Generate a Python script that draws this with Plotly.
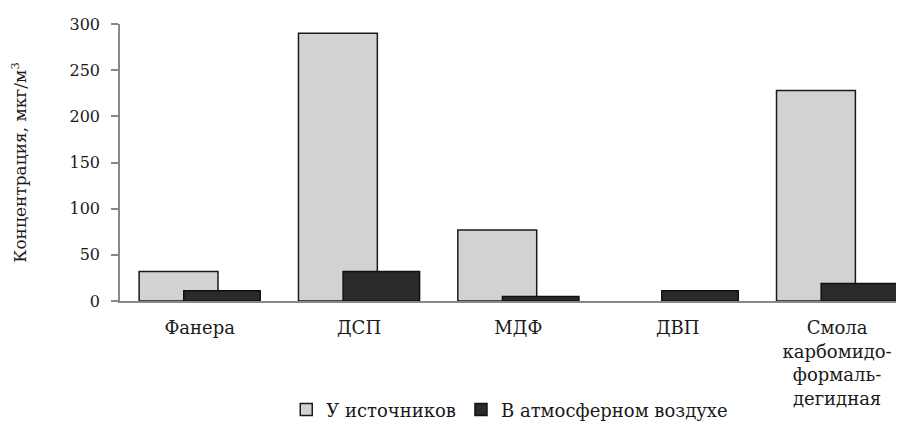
import plotly.graph_objects as go

categories = ["Фанера", "ДСП", "МДФ", "ДВП", "Смола<br>карбомидо-<br>формаль-<br>дегидная"]
sources = [32, 290, 77, 0, 228]
atmosphere = [11, 32, 5, 11, 19]
series_names = ["У источников", "В атмосферном воздухе"]
y_ticks = [0, 50, 100, 150, 200, 250, 300]

FONT = "DejaVu Serif"

fig = go.Figure()
fig.add_trace(go.Bar(
    x=categories, y=sources, name=series_names[0],
    marker=dict(color="#d2d2d2", line=dict(color="#1a1a1a", width=[1.5 if v > 0 else 0 for v in sources])),
    width=0.495, offset=-0.38,
))
fig.add_trace(go.Bar(
    x=categories, y=atmosphere, name=series_names[1],
    marker=dict(color="#2a2a2a", line=dict(color="#111111", width=1.5)),
    width=0.48, offset=-0.1,
))

fig.update_layout(
    width=896, height=413,
    barmode="overlay",
    plot_bgcolor="white", paper_bgcolor="white",
    font=dict(family=FONT, size=17, color="#1a1a1a"),
    margin=dict(l=112, r=0, t=16, b=120, autoexpand=False),
    showlegend=True,
    legend=dict(orientation="h", x=0.56, xanchor="center", xref="container",
                y=0.027, yanchor="middle", yref="container",
                font=dict(family=FONT, size=18), itemwidth=30, tracegroupgap=0),
    xaxis=dict(
        type="category", range=[-0.5, 4.42], automargin=False,
        showline=True, linecolor="#888888", linewidth=1.5,
        ticks="", showgrid=False, tickfont=dict(family=FONT, size=18),
        ticklabelstandoff=10,
    ),
    yaxis=dict(
        range=[0, 300], tickvals=y_ticks, automargin=False,
        showline=True, linecolor="#888888", linewidth=1.5,
        ticks="outside", ticklen=7, tickcolor="#888888", tickwidth=1.5,
        showgrid=False, zeroline=False, tickfont=dict(family=FONT, size=16),
        ticklabelstandoff=8,
        title=dict(text="Концентрация, мкг/м<sup>3</sup>", font=dict(family=FONT, size=17), standoff=50),
    ),
)

fig.write_html("out.html")
